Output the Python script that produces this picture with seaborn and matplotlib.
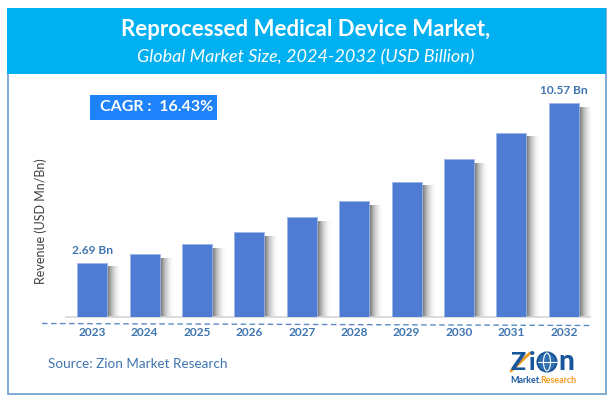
#!/usr/bin/env python3
"""Reprocessed medical device market bar chart, saved to out.png"""
import numpy as np
import pandas as pd
import matplotlib
matplotlib.use('Agg')
import matplotlib.pyplot as plt
from matplotlib.patches import Rectangle, Circle, Ellipse
import seaborn as sns

years = ['2023', '2024', '2025', '2026', '2027', '2028', '2029', '2030', '2031', '2032']
revenue = [2.69, 3.11, 3.60, 4.20, 4.94, 5.73, 6.67, 7.80, 9.09, 10.57]
first_label = '2.69 Bn'
last_label = '10.57 Bn'
title = 'Reprocessed Medical Device Market,'
subtitle = 'Global Market Size, 2024-2032 (USD Billion)'
cagr = 'CAGR :  16.43%'
ylabel = 'Revenue (USD Mn/Bn)'
source = 'Source: Zion Market Research'

W, H = 614, 403
TEXT_BLUE = '#3E75B0'
BAR_BLUE = '#4E7CD3'

sns.set_style('white')
plt.rcParams['font.family'] = ['Lato', 'DejaVu Sans']

fig = plt.figure(figsize=(W / 100, H / 100), dpi=100, facecolor='white')

# overlay in pixel coordinates for the frame, header and logo
bg = fig.add_axes([0, 0, 1, 1], zorder=0)
bg.set_xlim(0, W)
bg.set_ylim(H, 0)
bg.axis('off')
bg.add_patch(Rectangle((7.5, 8.5), 598, 385, fc='white', ec='#6A9CCB', lw=1.2))
bg.add_patch(Rectangle((7, 8), 599, 65.5, fc='#00B0F0', ec='none'))
bg.text(306, 30, title, color='white', fontsize=16, fontweight='bold', ha='center', va='center')
bg.text(305.5, 57.5, subtitle, color='white', fontsize=13, style='italic', ha='center', va='center')
bg.add_patch(Rectangle((90, 95), 127, 25, fc='#1E82FA', ec='none'))
bg.text(157, 107, cagr, color='white', fontsize=11.5, fontweight='bold', ha='center', va='center')
bg.text(41, 221, ylabel, color='#404040', fontsize=9, rotation=90, ha='center', va='center')
bg.plot([42, 592], [323.5, 325.5], color='#5B8AC6', lw=1, ls=(0, (4, 2.5)))
bg.text(48, 364.5, source, color=TEXT_BLUE, fontsize=9.7, ha='left', va='center')

# logo
logo_blue = '#17569B'
logo_orange = '#F39A1E'
bg.text(518, 370, 'Z', color=logo_blue, fontsize=18, fontweight='black', ha='center', va='baseline')
bg.plot([511, 530], [371, 353], color=logo_orange, lw=2)
bg.text(532, 370, 'i', color=logo_blue, fontsize=18, fontweight='black', ha='center', va='baseline')
bg.add_patch(Circle((547, 362), 9.5, fc='#2F6FB0', ec=logo_blue, lw=1.5))
bg.add_patch(Ellipse((547, 362), 7, 18, fc='none', ec='white', lw=0.8))
bg.plot([537.5, 556.5], [362, 362], color='white', lw=0.8)
bg.text(566, 370, 'n', color=logo_blue, fontsize=20, fontweight='black', ha='center', va='baseline')
bg.text(510, 380.5, 'Market.', color=logo_blue, fontsize=6.4, fontweight='bold', ha='left', va='center')
bg.text(540, 380.5, 'Research', color=logo_orange, fontsize=6.4, fontweight='bold', ha='left', va='center')

# main chart, axes placed so the bars land on the reference columns
ax = fig.add_axes([66 / W, 1 - 317 / H, 524 / W, 240 / H], zorder=1)
ax.patch.set_alpha(0)
df = pd.DataFrame({'year': years, 'revenue': revenue})
sns.barplot(data=df, x='year', y='revenue', color=BAR_BLUE, saturation=1, width=0.57,
            edgecolor='#9DB6E6', linewidth=0.6, zorder=3, ax=ax)
ymax = 240 / 20.25
ax.set_ylim(0, ymax)
xlim = (-0.5, len(years) - 0.5)

# soft shadow to the right of each bar
shade = np.ones((1, 32, 4)) * 0.42
shade[..., 3] = np.linspace(1, 0, 32) ** 2
for bar in ax.patches:
    x1 = bar.get_x() + bar.get_width()
    ax.imshow(shade, extent=(x1, x1 + 0.27, 0, bar.get_height() - 0.2),
              aspect='auto', zorder=2, interpolation='bilinear')
ax.set_xlim(xlim)
ax.set_ylim(0, ymax)

ax.set_xlabel('')
ax.set_ylabel('')
ax.set_yticks([])
ax.tick_params(axis='x', length=0, pad=7, labelsize=8.6, labelcolor=TEXT_BLUE)
for lab in ax.get_xticklabels():
    lab.set_fontweight('bold')
sns.despine(ax=ax, left=True)
ax.spines['bottom'].set_color('#D5D5D5')
ax.spines['bottom'].set_linewidth(1.2)

ax.annotate(first_label, (0, revenue[0]), xytext=(0, 5), textcoords='offset points', ha='center',
            va='bottom', color=TEXT_BLUE, fontsize=8.6, fontweight='bold')
ax.annotate(last_label, (9, revenue[-1]), xytext=(0, 5), textcoords='offset points', ha='center',
            va='bottom', color=TEXT_BLUE, fontsize=8.6, fontweight='bold')

fig.savefig('out.png', dpi=100)
